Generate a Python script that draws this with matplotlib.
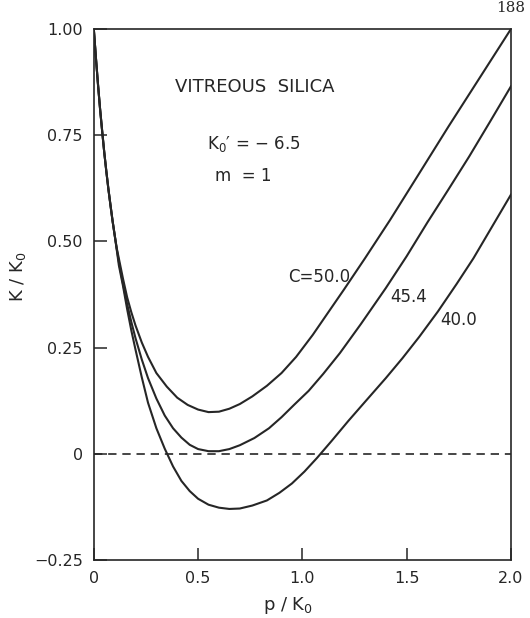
import matplotlib
matplotlib.use("Agg")
import matplotlib.pyplot as plt

# values (p/K0, K/K0)
p_c50 = [0.0, 0.01, 0.02, 0.03, 0.04, 0.05, 0.06, 0.07, 0.08, 0.09, 0.10, 0.11,
         0.12, 0.14, 0.16, 0.18, 0.20, 0.23, 0.26, 0.30, 0.35, 0.40, 0.45, 0.50,
         0.55, 0.60, 0.65, 0.70, 0.76, 0.83, 0.90, 0.97, 1.05, 1.12, 1.20, 1.30,
         1.42, 1.55, 1.70, 1.85, 2.00]
k_c50 = [1.00, 0.933, 0.87, 0.812, 0.76, 0.71, 0.665, 0.623, 0.585, 0.548, 0.515, 0.484,
         0.46, 0.412, 0.368, 0.333, 0.302, 0.262, 0.228, 0.19, 0.158, 0.132, 0.115, 0.104,
         0.098, 0.099, 0.106, 0.117, 0.135, 0.16, 0.19, 0.228, 0.28, 0.33, 0.387, 0.46,
         0.55, 0.652, 0.77, 0.885, 1.00]

p_c454 = [0.0, 0.01, 0.02, 0.03, 0.04, 0.05, 0.06, 0.07, 0.08, 0.09, 0.10, 0.11,
          0.12, 0.14, 0.16, 0.18, 0.20, 0.23, 0.26, 0.30, 0.34, 0.38, 0.42, 0.46,
          0.50, 0.55, 0.60, 0.65, 0.70, 0.77, 0.84, 0.90, 0.96, 1.03, 1.10, 1.18,
          1.28, 1.40, 1.50, 1.60, 1.70, 1.80, 1.90, 2.00]
k_c454 = [1.00, 0.933, 0.87, 0.812, 0.76, 0.71, 0.665, 0.623, 0.585, 0.548, 0.515, 0.482,
          0.452, 0.40, 0.352, 0.31, 0.272, 0.222, 0.178, 0.13, 0.09, 0.06, 0.038, 0.021,
          0.011, 0.006, 0.006, 0.011, 0.02, 0.037, 0.06, 0.086, 0.115, 0.148, 0.188, 0.237,
          0.305, 0.39, 0.465, 0.545, 0.622, 0.70, 0.782, 0.865]

p_c40 = [0.0, 0.01, 0.02, 0.03, 0.04, 0.05, 0.06, 0.07, 0.08, 0.09, 0.10, 0.11,
         0.12, 0.14, 0.16, 0.18, 0.20, 0.23, 0.26, 0.30, 0.34, 0.38, 0.42, 0.46,
         0.50, 0.55, 0.60, 0.65, 0.70, 0.76, 0.83, 0.89, 0.95, 1.01, 1.07, 1.14,
         1.22, 1.30, 1.40, 1.48, 1.56, 1.65, 1.74, 1.82, 1.91, 2.00]
k_c40 = [1.00, 0.933, 0.87, 0.812, 0.76, 0.71, 0.665, 0.623, 0.585, 0.548, 0.515, 0.48,
         0.444, 0.395, 0.34, 0.29, 0.245, 0.18, 0.12, 0.06, 0.012, -0.03, -0.064, -0.088,
         -0.106, -0.12, -0.127, -0.13, -0.129, -0.122, -0.11, -0.092, -0.07, -0.042, -0.01, 0.03,
         0.077, 0.122, 0.178, 0.225, 0.275, 0.335, 0.40, 0.46, 0.535, 0.61]

x_ticks = [0, 0.5, 1.0, 1.5, 2.0]
x_tick_labels = ["0", "0.5", "1.0", "1.5", "2.0"]
y_ticks = [-0.25, 0, 0.25, 0.50, 0.75, 1.00]
y_tick_labels = ["\u22120.25", "0", "0.25", "0.50", "0.75", "1.00"]

ink = "#262626"
plt.rcParams["font.family"] = ["DejaVu Sans"]
plt.rcParams["mathtext.fontset"] = "dejavusans"

fig = plt.figure(figsize=(5.3, 6.18), dpi=100)
ax = fig.add_axes([0.177, 0.094, 0.787, 0.859])

# zero line
ax.plot([0, 2.0], [0, 0], color=ink, lw=1.2, linestyle=(0, (5, 3.5)))

for px, kx in [(p_c50, k_c50), (p_c454, k_c454), (p_c40, k_c40)]:
    ax.plot(px, kx, color=ink, lw=1.5, solid_joinstyle="round")

ax.set_xlim(0, 2.0)
ax.set_ylim(-0.25, 1.0)
ax.set_xticks(x_ticks)
ax.set_xticklabels(x_tick_labels)
ax.set_yticks(y_ticks)
ax.set_yticklabels(y_tick_labels)
ax.tick_params(direction="in", length=9, width=1.1, colors=ink,
               labelsize=11.5, pad=8)
for s in ax.spines.values():
    s.set_linewidth(1.2)
    s.set_color(ink)

ax.set_xlabel(r"p / K$_\mathregular{0}$", fontsize=13, color=ink)
ax.xaxis.set_label_coords(0.465, -0.066)
ax.set_ylabel(r"K / K$_\mathregular{0}$", fontsize=13, color=ink)
ax.yaxis.set_label_coords(-0.158, 0.533)

ax.text(0.77, 0.864, "VITREOUS  SILICA", fontsize=13, color=ink,
        ha="center", va="center")
ax.text(0.545, 0.73, "K$_\\mathregular{0}$\u2032 = \u2212 6.5",
        fontsize=12, color=ink, ha="left", va="center")
ax.text(0.58, 0.655, "m  = 1", fontsize=12, color=ink, ha="left", va="center")

ax.text(0.93, 0.415, "C=50.0", fontsize=12, color=ink, ha="left", va="center")
ax.text(1.42, 0.37, "45.4", fontsize=12, color=ink, ha="left", va="center")
ax.text(1.66, 0.315, "40.0", fontsize=12, color=ink, ha="left", va="center")

# page number at the top edge of the scan
fig.text(0.99, 0.998, "188", fontsize=11, family="DejaVu Serif", color=ink,
         ha="right", va="top")

fig.savefig("out.png", dpi=100)
